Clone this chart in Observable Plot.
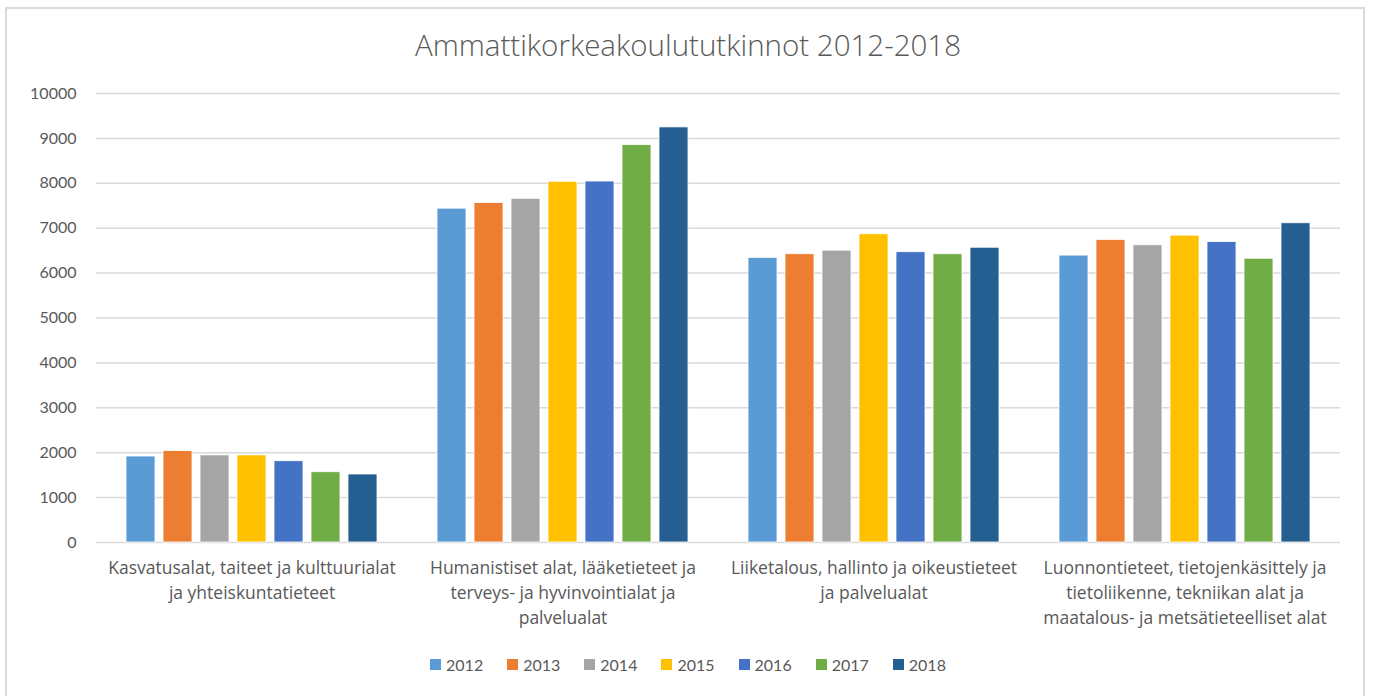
<!DOCTYPE html>
<html>
<head>
<meta charset="utf-8">
<script src="https://cdn.jsdelivr.net/npm/d3@7"></script>
<script src="https://cdn.jsdelivr.net/npm/@observablehq/plot@0.6"></script>
<style>
  html, body { margin: 0; padding: 0; background: #fff; }
  #wrap { position: relative; width: 1376px; height: 696px; overflow: hidden; font-family: Lato, "Noto Sans", sans-serif; }
  #frame { position: absolute; left: 5px; top: 7px; width: 1360px; height: 700px; border: 2px solid #d9d9d9; box-sizing: border-box; }
  #title { position: absolute; left: 0; width: 1376px; top: 24px; text-align: center; font-family: "Open Sans", sans-serif; font-size: 29.5px; font-weight: 300; color: #595959; }
  #chart { position: absolute; left: 0; top: 0; }
  #legend { position: absolute; left: 0; width: 1376px; top: 655px; display: flex; justify-content: center; gap: 24px; font-size: 16px; color: #595959; }
  .item { display: flex; align-items: center; gap: 5px; }
  .sw { width: 11px; height: 11px; display: inline-block; }
</style>
</head>
<body>
<div id="wrap">
  <div id="frame"></div>
  <div id="title">Ammattikorkeakoulututkinnot 2012-2018</div>
  <div id="chart"></div>
  <div id="legend"></div>
</div>
<script>
const years = ["2012", "2013", "2014", "2015", "2016", "2017", "2018"];
const colors = ["#5b9bd5", "#ed7d31", "#a5a5a5", "#ffc000", "#4472c4", "#70ad47", "#255e91"];
const categories = [
  "Kasvatusalat, taiteet ja kulttuurialat\nja yhteiskuntatieteet",
  "Humanistiset alat, lääketieteet ja\nterveys- ja hyvinvointialat ja\npalvelualat",
  "Liiketalous, hallinto ja oikeustieteet\nja palvelualat",
  "Luonnontieteet, tietojenkäsittely ja\ntietoliikenne, tekniikan alat ja\nmaatalous- ja metsätieteelliset alat"
];
const kasvatus = [1915, 2035, 1940, 1940, 1810, 1565, 1515];
const humanistiset = [7435, 7560, 7655, 8035, 8040, 8850, 9245];
const liiketalous = [6340, 6420, 6500, 6865, 6465, 6420, 6565];
const luonnontieteet = [6390, 6740, 6620, 6835, 6690, 6320, 7110];
const yTicks = [0, 1000, 2000, 3000, 4000, 5000, 6000, 7000, 8000, 9000, 10000];

const series = [kasvatus, humanistiset, liiketalous, luonnontieteet];
const rows = [];
categories.forEach((c, i) => years.forEach((y, j) => rows.push({category: c, year: y, value: series[i][j]})));

const plot = Plot.plot({
  width: 1376,
  height: 650,
  marginTop: 93,
  marginBottom: 108,
  marginLeft: 95,
  marginRight: 36,
  style: {fontFamily: "Lato, 'Noto Sans', sans-serif", color: "#595959", background: "transparent"},
  fx: {domain: categories, padding: 0, axis: null},
  x: {domain: years, paddingInner: 0.21, paddingOuter: 0.8, axis: null},
  y: {domain: [0, 10000], ticks: yTicks, tickFormat: d3.format("d")},
  color: {domain: years, range: colors},
  marks: [
    Plot.gridY(yTicks, {stroke: "#d9d9d9", strokeOpacity: 1, strokeWidth: 1.5}),
    Plot.axisY(yTicks, {tickSize: 0, tickPadding: 20, fontSize: 16, tickFormat: d3.format("d"), label: null, fill: "#595959"}),
    Plot.barY(rows, {fx: "category", x: "year", y: "value", fill: "year", stroke: "#fff", strokeWidth: 0.8}),
    Plot.text(categories, {fx: d => d, text: d => d, frameAnchor: "bottom", lineAnchor: "top", dy: 13, lineHeight: 1.45, fontSize: 17.5, fontFamily: "'Open Sans', sans-serif", fill: "#595959"})
  ]
});
document.getElementById("chart").appendChild(plot);

const legend = document.getElementById("legend");
years.forEach((y, i) => {
  const it = document.createElement("div");
  it.className = "item";
  it.innerHTML = `<span class="sw" style="background:${colors[i]}"></span><span>${y}</span>`;
  legend.appendChild(it);
});
</script>
</body>
</html>
